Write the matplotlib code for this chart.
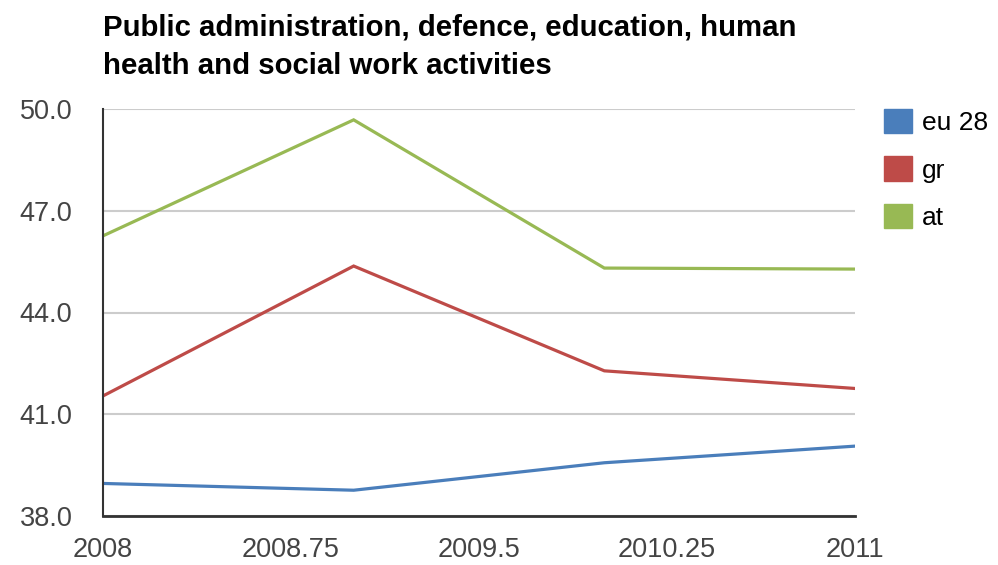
import matplotlib.pyplot as plt
import matplotlib.patches as patches

# Values
years = [2008, 2009, 2010, 2011]
eu28 = [38.96, 38.76, 39.57, 40.06]
gr = [41.54, 45.37, 42.28, 41.76]
at = [46.26, 49.68, 45.31, 45.28]

x_ticks = [2008, 2008.75, 2009.5, 2010.25, 2011]
x_labels = ['2008', '2008.75', '2009.5', '2010.25', '2011']
y_ticks = [38, 41, 44, 47, 50]

series = [('eu 28', eu28, '#4a7ebb'), ('gr', gr, '#be4b48'), ('at', at, '#98b954')]

plt.rcParams['font.family'] = ['Liberation Sans', 'DejaVu Sans']

fig = plt.figure(figsize=(9.98, 5.65), dpi=100)
ax = fig.add_axes([103 / 998, 1 - 516 / 565, (855 - 103) / 998, (516 - 109) / 565])

for name, values, color in series:
    ax.plot(years, values, color=color, linewidth=2.3, solid_joinstyle='miter')

ax.set_xlim(2008, 2011)
ax.set_ylim(38, 50)
ax.set_xticks(x_ticks)
ax.set_xticklabels(x_labels)
ax.set_yticks(y_ticks)
ax.set_yticklabels([f'{v:.1f}' for v in y_ticks])
ax.tick_params(axis='both', length=0, labelsize=19.5, labelcolor='#444444')
ax.tick_params(axis='y', pad=22)
ax.tick_params(axis='x', pad=15)

ax.grid(axis='y', color='#cccccc', linewidth=1.5)
ax.set_axisbelow(True)
for side in ['top', 'right']:
    ax.spines[side].set_visible(False)
ax.spines['left'].set_color('#333333')
ax.spines['left'].set_linewidth(1.5)
ax.spines['bottom'].set_color('#333333')
ax.spines['bottom'].set_linewidth(2)

# Legend with square colour boxes
handles = [patches.Patch(facecolor=c, edgecolor=c, label=n) for n, _, c in series]
fig.legend(handles=handles, loc='upper left', bbox_to_anchor=(884 / 998, 1 - 109 / 565),
           frameon=False, fontsize=19, handlelength=1.05, handleheight=1.05,
           handletextpad=0.4, labelspacing=0.8, borderpad=0, borderaxespad=0)

fig.text(103 / 998, 1 - 14 / 565,
         'Public administration, defence, education, human\nhealth and social work activities',
         fontsize=21.2, fontweight='bold', va='top', ha='left', linespacing=1.45)

fig.savefig('out.png', dpi=100)
